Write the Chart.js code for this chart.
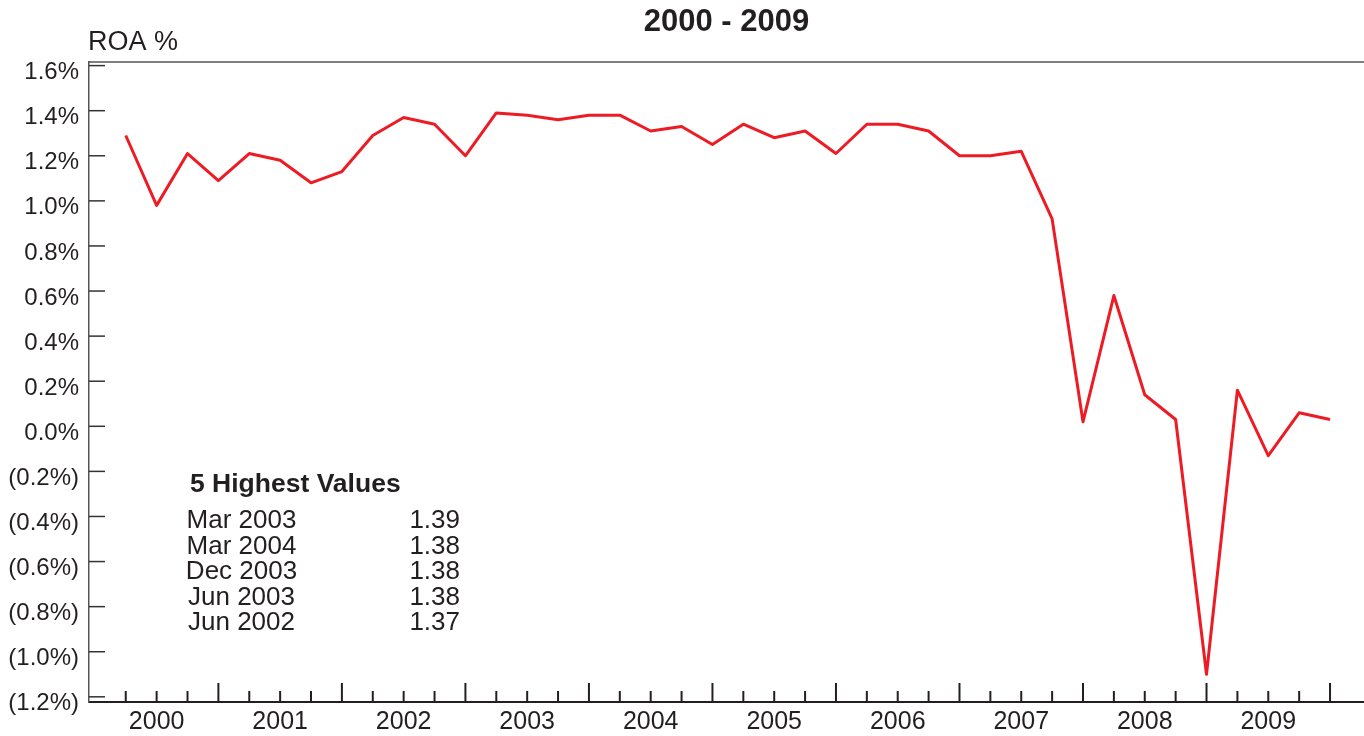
<!DOCTYPE html>
<html>
<head>
<meta charset="utf-8">
<title>ROA 2000 - 2009</title>
<script src="https://cdn.jsdelivr.net/npm/chart.js@4.4.1/dist/chart.umd.min.js"></script>
<style>
    html, body { margin: 0; padding: 0; background: #fff; }
    #wrap { width: 1364px; height: 736px; position: relative; }
</style>
</head>
<body>
<div id="wrap"><canvas id="roaChart"></canvas></div>
<script>
// ── Data ──
const years = ['2000', '2001', '2002', '2003', '2004', '2005', '2006', '2007', '2008', '2009'];
const months = ['Mar', 'Jun', 'Sep', 'Dec'];
const quarters = years.flatMap(yr => months.map(m => m + ' ' + yr));

// quarterly ROA, %
const roaValues = [
    1.29, 0.98, 1.21, 1.09,   // 2000
    1.21, 1.18, 1.08, 1.13,   // 2001
    1.29, 1.37, 1.34, 1.20,   // 2002
    1.39, 1.38, 1.36, 1.38,   // 2003
    1.38, 1.31, 1.33, 1.25,   // 2004
    1.34, 1.28, 1.31, 1.21,   // 2005
    1.34, 1.34, 1.31, 1.20,   // 2006
    1.20, 1.22, 0.92, 0.02,   // 2007
    0.58, 0.14, 0.03, -1.10,  // 2008
    0.16, -0.13, 0.06, 0.03   // 2009
];

const yTickValues = [-1.2, -1.0, -0.8, -0.6, -0.4, -0.2, 0.0, 0.2, 0.4, 0.6, 0.8, 1.0, 1.2, 1.4, 1.6];
const yTickLabels = ['(1.2%)', '(1.0%)', '(0.8%)', '(0.6%)', '(0.4%)', '(0.2%)', '0.0%', '0.2%', '0.4%', '0.6%', '0.8%', '1.0%', '1.2%', '1.4%', '1.6%'];

const topLabels = ['Mar 2003', 'Mar 2004', 'Dec 2003', 'Jun 2003', 'Jun 2002'];
const topValues = ['1.39', '1.38', '1.38', '1.38', '1.37'];

const TEXT = '#231f20';
const FONT = '"Liberation Sans", Arial, Helvetica, sans-serif';

// ── Frame, inward ticks and text ──
const decorPlugin = {
    id: 'decor',
    beforeDatasetsDraw(chart) {
        const { ctx, chartArea: a, scales: { x, y } } = chart;
        ctx.save();

        // top frame line
        ctx.strokeStyle = '#555';
        ctx.lineWidth = 1.5;
        ctx.beginPath();
        ctx.moveTo(a.left, a.top);
        ctx.lineTo(a.right, a.top);
        ctx.stroke();

        // y ticks pointing into the plot
        ctx.strokeStyle = '#333';
        ctx.lineWidth = 1.5;
        yTickValues.forEach(v => {
            const py = y.getPixelForValue(v);
            ctx.beginPath();
            ctx.moveTo(a.left, py);
            ctx.lineTo(a.left + 16, py);
            ctx.stroke();
        });

        // quarter ticks, year ends longer
        ctx.strokeStyle = TEXT;
        ctx.lineWidth = 2;
        quarters.forEach((q, i) => {
            const px = x.getPixelForValue(i);
            const len = q.startsWith('Dec') ? 19 : 11;
            ctx.beginPath();
            ctx.moveTo(px, a.bottom);
            ctx.lineTo(px, a.bottom - len);
            ctx.stroke();
        });
        ctx.restore();
    },
    afterDraw(chart) {
        const { ctx, chartArea: a } = chart;
        ctx.save();
        ctx.fillStyle = TEXT;
        ctx.textBaseline = 'alphabetic';

        ctx.font = 'bold 31px ' + FONT;
        ctx.textAlign = 'center';
        ctx.fillText('2000 - 2009', (a.left + a.right) / 2, 31);

        ctx.font = '27px ' + FONT;
        ctx.textAlign = 'left';
        ctx.fillText('ROA %', a.left - 1, 50);

        // 5 highest values box
        ctx.font = 'bold 26.5px ' + FONT;
        ctx.fillText('5 Highest Values', 190, 492);
        ctx.font = '26px ' + FONT;
        topLabels.forEach((lbl, i) => {
            const by = 528 + i * 25.5;
            ctx.textAlign = 'center';
            ctx.fillText(lbl, 241.5, by);
            ctx.textAlign = 'right';
            ctx.fillText(topValues[i], 460, by);
        });
        ctx.restore();
    }
};

// ── Chart ──
const ctx = document.getElementById('roaChart').getContext('2d');
new Chart(ctx, {
    type: 'line',
    data: {
        datasets: [{
            label: 'ROA %',
            data: roaValues.map((v, i) => ({ x: i, y: v })),
            borderColor: '#ed1c24',
            borderWidth: 3,
            borderJoinStyle: 'round',
            pointRadius: 0,
            tension: 0,
            fill: false
        }]
    },
    options: {
        responsive: true,
        maintainAspectRatio: false,
        animation: false,
        devicePixelRatio: 1,
        layout: { padding: { top: 62, left: 0, right: 0, bottom: 0 } },
        plugins: {
            legend: { display: false },
            title: { display: false },
            tooltip: { enabled: false }
        },
        scales: {
            x: {
                type: 'linear',
                min: -1.19,
                max: 40.1,
                afterBuildTicks: s => { s.ticks = years.map((_, k) => ({ value: 4 * k + 1 })); },
                afterFit: s => { s.height = 34; },
                grid: { display: false, drawTicks: false },
                border: { display: true, color: TEXT, width: 2 },
                ticks: {
                    autoSkip: false,
                    maxRotation: 0,
                    padding: 5,
                    color: TEXT,
                    font: { family: FONT, size: 25 },
                    callback: v => years[(v - 1) / 4]
                }
            },
            y: {
                min: -1.223,
                max: 1.616,
                afterBuildTicks: s => { s.ticks = yTickValues.map(v => ({ value: v })); },
                afterFit: s => { s.width = 89; },
                grid: { display: false, drawTicks: false },
                border: { display: true, color: '#555', width: 1.5 },
                ticks: {
                    padding: 10,
                    labelOffset: 7,
                    color: TEXT,
                    font: { family: FONT, size: 24 },
                    callback: v => yTickLabels[yTickValues.indexOf(v)]
                }
            }
        }
    },
    plugins: [decorPlugin]
});
</script>
</body>
</html>
